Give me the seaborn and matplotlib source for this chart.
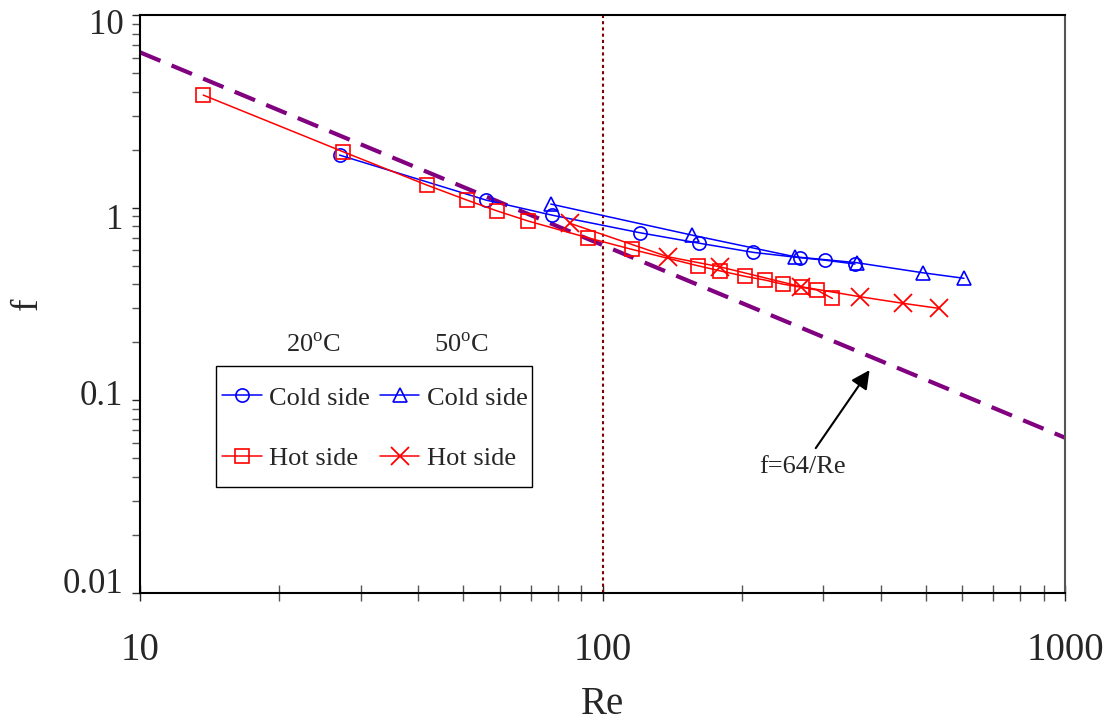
import numpy as np
import pandas as pd
import matplotlib
matplotlib.use("Agg")
import matplotlib.pyplot as plt
import matplotlib.transforms as mtransforms
from matplotlib.patches import Rectangle
import seaborn as sns

# friction factor vs Re
re_cold20 = [27.0, 56.0, 77.7, 120.5, 161.3, 211.9, 267.3, 302.8, 351.6]
f_cold20 = [1.875, 1.095, 0.915, 0.741, 0.655, 0.586, 0.55, 0.534, 0.51]

re_hot20 = [13.7, 27.5, 41.7, 50.9, 59.0, 69.1, 92.9, 115.6, 160.5, 179.5,
            203.3, 224.6, 245.3, 269.6, 290.5, 314.0]
f_hot20 = [3.84, 1.95, 1.31, 1.095, 0.964, 0.852, 0.698, 0.608, 0.50, 0.47,
           0.44, 0.421, 0.401, 0.386, 0.374, 0.338]

re_cold50 = [77.3, 155.9, 260.8, 354.6, 493.9, 604.8]
f_cold50 = [1.044, 0.721, 0.556, 0.518, 0.459, 0.43]

re_hot50 = [85.1, 138.6, 179.5, 268.7, 360.5, 445.8, 534.9]
f_hot50 = [0.829, 0.556, 0.493, 0.389, 0.345, 0.319, 0.30]

# laminar line f=64/Re
re_lam = [10, 1000]
f_lam = [6.4, 0.064]

sns.set_style("ticks")
plt.rcParams['font.family'] = ['Liberation Serif', 'DejaVu Serif']
plt.rcParams['mathtext.fontset'] = 'custom'
plt.rcParams['mathtext.rm'] = 'Liberation Serif'

fig = plt.figure(figsize=(11.14, 7.21), dpi=100)
ax = fig.add_axes([0.1257, 0.1775, 0.8303, 0.8017])

lw = 1.1
sns.lineplot(x=re_lam, y=f_lam, ax=ax, color='#800080', linewidth=3,
             dashes=False, sort=False, estimator=None, zorder=1)
ax.lines[-1].set_dashes((5.3, 2.9))

sns.lineplot(x=re_cold20, y=f_cold20, ax=ax, color='#0000ff', linewidth=lw,
             marker='o', markersize=9.5, markerfacecolor='none',
             markeredgecolor='#0000ff', markeredgewidth=1.2,
             sort=False, estimator=None, label='Cold side', zorder=3)
sns.lineplot(x=re_hot20, y=f_hot20, ax=ax, color='#ff0000', linewidth=lw,
             marker='s', markersize=10, markerfacecolor='none',
             markeredgecolor='#ff0000', markeredgewidth=1.2,
             sort=False, estimator=None, label='Hot side', zorder=3)
sns.lineplot(x=re_cold50, y=f_cold50, ax=ax, color='#0000ff', linewidth=lw,
             marker='^', markersize=10.5, markerfacecolor='none',
             markeredgecolor='#0000ff', markeredgewidth=1.2,
             sort=False, estimator=None, label='Cold side ', zorder=3)
sns.lineplot(x=re_hot50, y=f_hot50, ax=ax, color='#ff0000', linewidth=lw,
             marker='x', markersize=13, markeredgecolor='#ff0000',
             markeredgewidth=1.3,
             sort=False, estimator=None, label='Hot side ', zorder=3)

ax.axvline(100, color='#800000', linewidth=1.5, linestyle=(0, (1.5, 1.5)), zorder=2)

ax.set_xscale('log')
ax.set_yscale('log')
ax.set_xlim(10, 1000)
ax.set_ylim(0.01, 10)

ax.set_xticks([10, 100, 1000])
ax.set_xticklabels(['10', '100', '1000'])
ax.set_yticks([0.01, 0.1, 1, 10])
ax.set_yticklabels(['0.01', '0.1', '1', '10'])

ax.tick_params(axis='x', which='both', direction='inout', length=12, width=1,
               labelsize=28, pad=22, top=False)
ax.tick_params(axis='y', which='both', direction='out', length=6, width=1,
               labelsize=25, pad=6, right=False)
ax.tick_params(axis='y', which='minor', color='#555555')
ax.tick_params(axis='x', which='minor', color='#555555')

# nudge y labels the way the original sits them (points)
for lbl, dy in zip(ax.get_yticklabels(), [9, 6, -6, -5]):
    lbl.set_transform(lbl.get_transform() +
                      mtransforms.ScaledTranslation(0, dy / 72, fig.dpi_scale_trans))

for side in ['left', 'bottom', 'top']:
    ax.spines[side].set_linewidth(1.5)
    ax.spines[side].set_color('black')
ax.spines['right'].set_linewidth(1.5)
ax.spines['right'].set_color('#555555')
ax.spines['right'].set_visible(True)
ax.spines['top'].set_visible(True)

ax.set_xlabel('Re', fontsize=28, labelpad=12)
ax.set_ylabel('f', fontsize=27, labelpad=13)

handles, labels = ax.get_legend_handles_labels()
leg = ax.legend(handles, [l.strip() for l in labels], ncol=2,
                loc='center', bbox_to_anchor=(375 / 1114, 1 - 428 / 721),
                bbox_transform=fig.transFigure, fontsize=19,
                frameon=False, handlelength=1.5, handletextpad=0.28,
                columnspacing=0.37, labelspacing=1.39, borderpad=0,
                borderaxespad=0)
# legend frame as in the original (taller than the entries need)
fig.add_artist(Rectangle((215.7 / 1114, 1 - 486.7 / 721), 316.6 / 1114, 121 / 721,
                         transform=fig.transFigure, fill=False,
                         edgecolor='black', linewidth=1.0, zorder=5))

fig.text(0.281, 0.5215, r'20$^{\mathrm{o}}$C', fontsize=19, ha='center', va='center')
fig.text(0.4145, 0.5215, r'50$^{\mathrm{o}}$C', fontsize=19, ha='center', va='center')

ax.annotate('f=64/Re', xy=(378, 0.1436), xytext=(271, 0.0451),
            fontsize=19, ha='center', va='center',
            arrowprops=dict(arrowstyle='-|>', color='black', lw=1.5,
                            mutation_scale=28, shrinkA=4, shrinkB=0))

fig.savefig('out.png', dpi=100, facecolor='white')
